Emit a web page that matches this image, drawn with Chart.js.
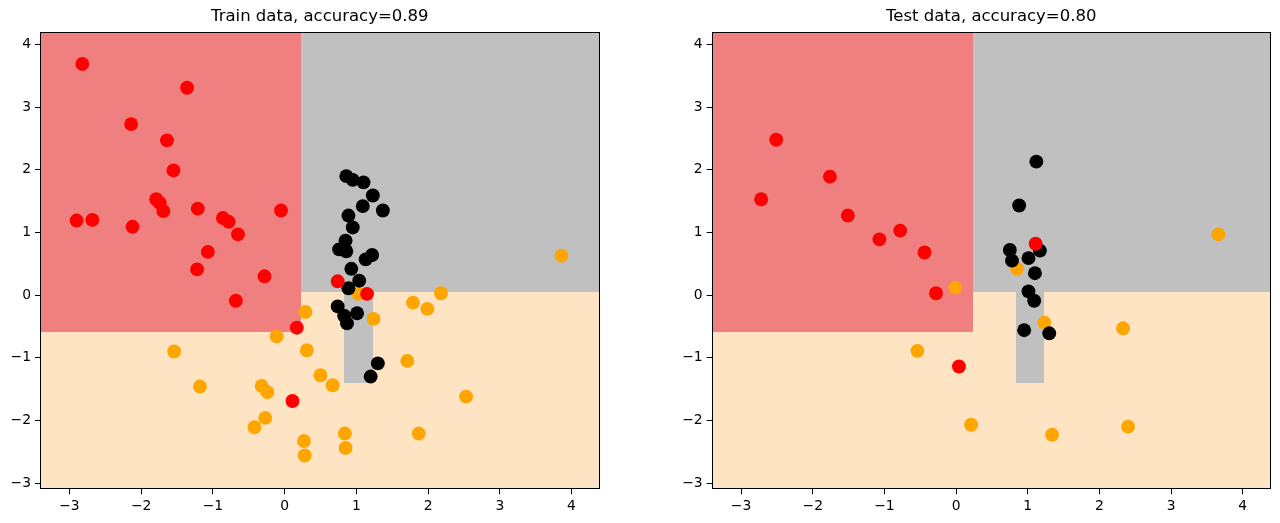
<!DOCTYPE html>
<html><head><meta charset="utf-8">
<script src="https://cdn.jsdelivr.net/npm/chart.js@4"></script>
<style>
html,body{margin:0;padding:0;background:#fff;overflow:hidden}
#wrap{position:relative;width:1280px;height:523px}
canvas{position:absolute;top:0}
</style></head><body>
<div id="wrap">
<canvas id="train" width="640" height="523" style="left:0;width:640px;height:523px"></canvas>
<canvas id="test" width="640" height="523" style="left:640px;width:640px;height:523px"></canvas>
</div>
<script>
// ---- axis data ----
const xRange = [-3.41, 4.39];
const yRange = [-3.10, 4.20];
const xTickValues = [-3, -2, -1, 0, 1, 2, 3, 4];
const xTickLabels = ['\u22123', '\u22122', '\u22121', '0', '1', '2', '3', '4'];
const yTickValues = [-3, -2, -1, 0, 1, 2, 3, 4];
const yTickLabels = ['\u22123', '\u22122', '\u22121', '0', '1', '2', '3', '4'];

// ---- decision regions (data coordinates) ----
const regionClass = ['orange', 'red', 'black', 'black'];
const regionX0 = [-3.41, -3.41, 0.23, 0.83];
const regionX1 = [4.39, 0.23, 4.39, 1.23];
const regionY0 = [-3.10, -0.585, 0.057, -1.40];
const regionY1 = [4.20, 4.20, 4.20, 0.057];

// ---- train data ----
const trainRedX = [-2.82,-1.36,-2.14,-1.64,-1.55,-1.79,-1.74,-1.69,-1.21,-2.90,-2.68,-2.12,-0.86,-0.78,-0.65,-0.05,-1.07,-1.22,-0.28,-0.68,0.74,1.15,0.17,0.11];
const trainRedY = [3.69,3.31,2.73,2.47,1.99,1.53,1.47,1.34,1.38,1.19,1.20,1.09,1.23,1.17,0.97,1.35,0.69,0.41,0.30,-0.09,0.22,0.02,-0.52,-1.69];
const trainBlackX = [0.86,0.95,1.10,1.23,1.09,1.37,0.89,0.95,0.85,0.76,0.86,1.22,1.13,0.93,1.04,0.89,0.74,0.83,0.87,1.01,1.30,1.20];
const trainBlackY = [1.90,1.84,1.80,1.59,1.42,1.35,1.27,1.08,0.87,0.73,0.70,0.64,0.57,0.42,0.23,0.11,-0.18,-0.33,-0.45,-0.29,-1.09,-1.30];
const trainOrangeX = [3.86,2.18,1.79,1.99,1.03,0.29,1.24,-0.11,-1.54,0.31,1.71,0.50,0.67,-1.18,-0.32,-0.24,2.53,-0.27,-0.42,0.84,1.87,0.27,0.85,0.28];
const trainOrangeY = [0.63,0.03,-0.12,-0.22,0.02,-0.27,-0.38,-0.66,-0.90,-0.88,-1.05,-1.28,-1.44,-1.46,-1.45,-1.55,-1.62,-1.96,-2.11,-2.21,-2.21,-2.33,-2.44,-2.56];

// ---- test data ----
const testRedX = [-2.51,-1.76,-2.72,-1.51,-1.07,-0.78,-0.44,-0.28,0.04,1.11];
const testRedY = [2.48,1.89,1.53,1.27,0.89,1.03,0.68,0.03,-1.14,0.82];
const testBlackX = [1.12,0.88,0.75,1.17,0.78,1.01,1.10,1.01,1.09,0.95,1.30];
const testBlackY = [2.13,1.43,0.72,0.71,0.55,0.59,0.35,0.06,-0.09,-0.56,-0.61];
const testOrangeX = [3.66,-0.01,0.85,1.23,2.33,-0.54,0.21,1.34,2.40];
const testOrangeY = [0.97,0.12,0.42,-0.44,-0.53,-0.89,-2.07,-2.23,-2.10];

const trainTitle = 'Train data, accuracy=0.89';
const testTitle = 'Test data, accuracy=0.80';

// ---- styles ----
const regionColors = { orange: '#FFE4C4', red: '#F08080', black: '#C0C0C0' };
const pointColors = { orange: '#FFA500', red: '#FF0000', black: '#000000' };
const drawOrder = { red: 0, black: 1, orange: 2 };
const FONT = 'DejaVu Sans';

const regionPlugin = {
  id: 'regions',
  beforeDatasetsDraw(chart) {
    const { ctx, chartArea: a, scales: { x, y } } = chart;
    ctx.save();
    ctx.beginPath();
    ctx.rect(a.left, a.top, a.right - a.left, a.bottom - a.top);
    ctx.clip();
    for (let i = 0; i < regionClass.length; i++) {
      const px0 = Math.round(x.getPixelForValue(regionX0[i]));
      const px1 = Math.round(x.getPixelForValue(regionX1[i]));
      const py0 = Math.round(y.getPixelForValue(regionY0[i]));
      const py1 = Math.round(y.getPixelForValue(regionY1[i]));
      ctx.fillStyle = regionColors[regionClass[i]];
      ctx.fillRect(Math.min(px0, px1), Math.min(py0, py1), Math.abs(px1 - px0), Math.abs(py1 - py0));
    }
    ctx.restore();
  },
  afterDatasetsDraw(chart) {
    const { ctx, chartArea: a } = chart;
    ctx.save();
    ctx.strokeStyle = '#000';
    ctx.lineWidth = 1;
    ctx.strokeRect(Math.round(a.left) + 0.5, Math.round(a.top) + 0.5,
      Math.round(a.right - a.left) - 1, Math.round(a.bottom - a.top) - 1);
    ctx.restore();
  }
};

function makeSeries(cls, xs, ys) {
  return {
    label: cls,
    data: xs.map((v, i) => ({ x: v, y: ys[i] })),
    backgroundColor: pointColors[cls],
    borderWidth: 0,
    pointRadius: 6.95,
    pointHoverRadius: 6.95,
    order: drawOrder[cls]
  };
}

function makeChart(id, titleText, datasets, padLeft, padRight) {
  return new Chart(document.getElementById(id), {
    type: 'scatter',
    data: { datasets },
    options: {
      responsive: false,
      animation: false,
      devicePixelRatio: 1,
      events: [],
      layout: { padding: { left: padLeft, right: padRight, top: 0, bottom: 0 } },
      plugins: {
        legend: { display: false },
        tooltip: { enabled: false },
        title: {
          display: true, fullSize: false, text: titleText, color: '#000',
          font: { family: FONT, size: 16.5, weight: 'normal', lineHeight: 1.2 },
          padding: { top: 7, bottom: 5.2 }
        }
      },
      scales: {
        x: {
          type: 'linear', min: xRange[0], max: xRange[1],
          afterBuildTicks(s) { s.ticks = xTickValues.map(v => ({ value: v })); },
          afterFit(s) { s.height = 33.7; },
          grid: { drawOnChartArea: false, drawTicks: true, tickLength: 5, tickColor: '#000', tickWidth: 1 },
          border: { display: false },
          ticks: { color: '#000', font: { family: FONT, size: 13.9 }, padding: 4, maxRotation: 0, autoSkip: false,
                   callback: (v, i) => xTickLabels[i] }
        },
        y: {
          type: 'linear', min: yRange[0], max: yRange[1],
          afterBuildTicks(s) { s.ticks = yTickValues.map(v => ({ value: v })); },
          afterFit(s) { s.width = 40; },
          grid: { drawOnChartArea: false, drawTicks: true, tickLength: 5, tickColor: '#000', tickWidth: 1 },
          border: { display: false },
          ticks: { color: '#000', font: { family: FONT, size: 13.9 }, padding: 4, autoSkip: false,
                   callback: (v, i) => yTickLabels[i] }
        }
      }
    },
    plugins: [regionPlugin]
  });
}

makeChart('train', trainTitle, [
  makeSeries('red', trainRedX, trainRedY),
  makeSeries('black', trainBlackX, trainBlackY),
  makeSeries('orange', trainOrangeX, trainOrangeY)
], 0, 40.5);

makeChart('test', testTitle, [
  makeSeries('red', testRedX, testRedY),
  makeSeries('black', testBlackX, testBlackY),
  makeSeries('orange', testOrangeX, testOrangeY)
], 31.7, 9.3);
</script>
</body></html>
